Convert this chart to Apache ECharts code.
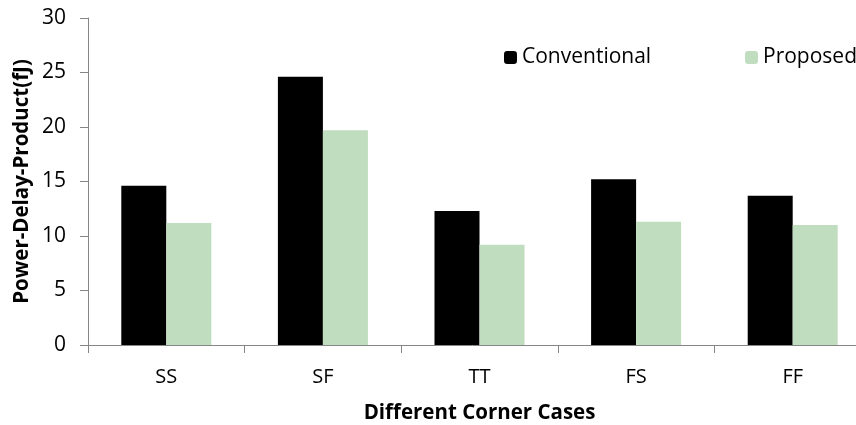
<!DOCTYPE html>
<html><head><meta charset="utf-8">
<script src="https://cdn.jsdelivr.net/npm/echarts@6/dist/echarts.min.js"></script>
<style>html,body{margin:0;padding:0;background:#fff}#c{width:856px;height:425px}</style>
</head><body><div id="c"></div>
<script>
const categories = ['SS','SF','TT','FS','FF'];
const conventional = [14.6, 24.6, 12.3, 15.2, 13.7];
const proposed = [11.2, 19.7, 9.2, 11.3, 11.0];
const yTicks = {min: 0, max: 30, interval: 5};
const FONT = 'Open Sans';
const chart = echarts.init(document.getElementById('c'));
chart.setOption({
  animation: false,
  textStyle: {fontFamily: FONT},
  grid: {left: 88, width: 783, top: 18, height: 327, containLabel: false, outerBoundsMode: 'none'},
  legend: [
    {data: ['Conventional'], left: 499, top: 42, itemWidth: 13, itemHeight: 13, itemGap: 8,
     textStyle: {fontFamily: FONT, fontSize: 21, color: '#000'}},
    {data: ['Proposed'], left: 740, top: 42, itemWidth: 13, itemHeight: 13, itemGap: 8,
     textStyle: {fontFamily: FONT, fontSize: 21, color: '#000'}}
  ],
  xAxis: {
    type: 'category', data: categories,
    name: 'Different Corner Cases', nameLocation: 'middle', nameGap: 58,
    nameTextStyle: {fontFamily: FONT, fontSize: 20.5, fontWeight: 'bold', color: '#000'},
    axisLine: {lineStyle: {color: '#868686', width: 1}},
    axisTick: {show: true, length: 8, lineStyle: {color: '#868686'}},
    axisLabel: {fontFamily: FONT, fontSize: 20, color: '#000', margin: 22}
  },
  yAxis: {
    type: 'value', min: yTicks.min, max: yTicks.max, interval: yTicks.interval,
    name: 'Power-Delay-Product(fJ)', nameLocation: 'middle', nameGap: 55, nameMoveOverlap: false,
    nameTextStyle: {fontFamily: FONT, fontSize: 20.5, fontWeight: 'bold', color: '#000'},
    axisLine: {show: true, lineStyle: {color: '#868686', width: 1}},
    axisTick: {show: true, length: 8, lineStyle: {color: '#868686'}},
    splitLine: {show: false},
    axisLabel: {fontFamily: FONT, fontSize: 21, color: '#000', margin: 22}
  },
  series: [
    {name: 'Conventional', type: 'bar', data: conventional, barWidth: 45, barGap: '0%',
     itemStyle: {color: '#000000'}},
    {name: 'Proposed', type: 'bar', data: proposed, barWidth: 45, barGap: '0%',
     itemStyle: {color: '#C0DDC0'}}
  ]
});
</script></body></html>
